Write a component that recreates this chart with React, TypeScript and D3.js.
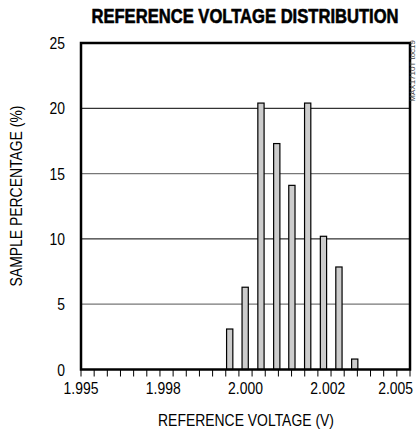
import React from "react";
import * as d3 from "d3";

const binCenters = [1.99952, 1.99999, 2.00047, 2.00095, 2.00141, 2.00189, 2.00237, 2.00284, 2.00332];
const percentages = [3.1, 6.3, 20.4, 17.3, 14.1, 20.4, 10.2, 7.85, 0.8];
const xTickLabelValues = [1.995, 1.9975, 2.0, 2.0025, 2.005];
const xTickLabels = ["1.995", "1.998", "2.000", "2.002", "2.005"];
const yTickValues = [0, 5, 10, 15, 20, 25];
const gridValues = [5, 10, 15, 20];

const W = 419;
const H = 432;
const left = 81;
const right = 410;
const top = 43;
const bottom = 369.5;
const FONT = "'Liberation Sans', Arial, sans-serif";
const SQUEEZE = 0.82;

function NarrowText(props: {
  x: number;
  y: number;
  anchor?: "start" | "middle" | "end";
  size?: number;
  rotate?: number;
  bold?: boolean;
  squeeze?: number;
  children: React.ReactNode;
}) {
  const { x, y, anchor = "middle", size = 17, rotate = 0, bold = false, squeeze = SQUEEZE, children } = props;
  return (
    <text
      transform={`translate(${x},${y}) rotate(${rotate}) scale(${squeeze},1)`}
      textAnchor={anchor}
      fontFamily={FONT}
      fontSize={size}
      fontWeight={bold ? "bold" : "normal"}
      fill="#000"
      stroke={bold ? "#000" : "none"}
      strokeWidth={bold ? 0.6 : 0}
    >
      {children}
    </text>
  );
}

export default function App() {
  const x = d3.scaleLinear().domain([1.995, 2.005]).range([left, right]);
  const y = d3.scaleLinear().domain([0, 25]).range([bottom, top]);
  const minorTicks = d3.range(0, 26).map((i) => 1.995 + i * 0.0004);
  const barW = x(1.995 + 0.00019) - x(1.995);

  return (
    <svg
      width={W}
      height={H}
      style={{ position: "absolute", left: 0, top: 0, display: "block", background: "#fff" }}
    >
      <NarrowText x={245} y={23} size={20} bold squeeze={0.83}>
        REFERENCE VOLTAGE DISTRIBUTION
      </NarrowText>

      {gridValues.map((g) => (
        <line
          key={g}
          x1={left}
          x2={right}
          y1={y(g)}
          y2={y(g)}
          stroke={g % 10 === 0 ? "#000" : "#777"}
          strokeWidth={g % 10 === 0 ? 1 : 1.3}
        />
      ))}

      {binCenters.map((c, i) => (
        <rect
          key={i}
          x={x(c) - barW / 2}
          y={y(percentages[i])}
          width={barW}
          height={y(0) - y(percentages[i])}
          fill="#cccccc"
          stroke="#000"
          strokeWidth={1.2}
        />
      ))}

      {minorTicks.map((t, i) => (
        <line key={i} x1={x(t)} x2={x(t)} y1={bottom} y2={bottom + 7} stroke="#000" strokeWidth={1} />
      ))}

      <rect x={left} y={top} width={right - left} height={bottom - top} fill="none" stroke="#000" strokeWidth={2.5} />

      {yTickValues.map((v) => (
        <NarrowText key={v} x={65} y={y(v) + 6} anchor="end">
          {v}
        </NarrowText>
      ))}

      {xTickLabelValues.map((v, i) => {
        const last = i === xTickLabelValues.length - 1;
        return (
          <NarrowText key={i} x={last ? x(v) + 3 : x(v)} y={394} anchor={last ? "end" : "middle"}>
            {xTickLabels[i]}
          </NarrowText>
        );
      })}

      <NarrowText x={246} y={426}>REFERENCE VOLTAGE (V)</NarrowText>

      <NarrowText x={22} y={196} rotate={-90}>
        SAMPLE PERCENTAGE (%)
      </NarrowText>

      <text
        transform={`translate(415,40) rotate(-90)`}
        textAnchor="end"
        fontFamily={FONT}
        fontSize={8}
        fill="#444"
      >
        MAX1710T toc19
      </text>
    </svg>
  );
}
